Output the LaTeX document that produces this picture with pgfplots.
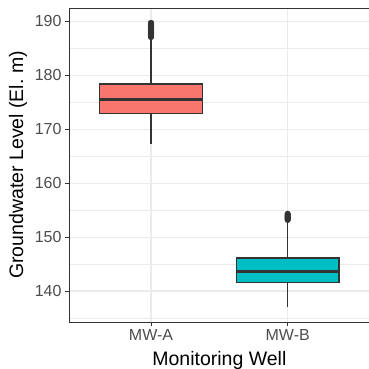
\documentclass[border=0pt]{standalone}
\usepackage{fontspec}
\setmainfont{Liberation Sans}
\usepackage{pgfplots}
\pgfplotsset{compat=1.18}
\definecolor{gtwenty}{HTML}{333333}
\definecolor{gthirty}{HTML}{4D4D4D}
\definecolor{gridc}{HTML}{EBEBEB}
\definecolor{cA}{HTML}{F8766D}
\definecolor{cB}{HTML}{00BFC4}
\begin{document}
\begin{tikzpicture}
\begin{axis}[
  name=ax,
  scale only axis,
  width=300.7pt, height=314pt,
  xmin=0.4, xmax=2.6, ymin=134.25, ymax=192.47,
  xtick={1,2}, xticklabels={MW-A,MW-B},
  ytick={140,150,160,170,180,190},
  minor ytick={135,145,155,165,175,185},
  minor tick style={draw=none},
  major tick length=4pt,
  tick align=outside,
  tick style={gtwenty, line width=0.8pt},
  xtick pos=bottom, ytick pos=left,
  grid=both,
  major grid style={gridc, line width=1.1pt},
  minor grid style={gridc, line width=0.6pt},
  axis line style={gtwenty, line width=0.8pt},
  /pgf/number format/assume math mode=true,
  ticklabel style={font=\fontsize{16}{18}\selectfont, text=gthirty},
  xlabel={Monitoring Well},
  ylabel={Groundwater Level (El.\ m)},
  every axis x label/.style={at={(axis description cs:0.5,-0.1401)}, anchor=base, font=\fontsize{19.5}{22}\selectfont, text=black},
  every axis y label/.style={at={(axis description cs:-0.1696,0.5)}, anchor=center, rotate=90, font=\fontsize{19.5}{22}\selectfont, text=black},
]
% MW-A whiskers
\addplot[gtwenty, line width=1.3pt, mark=none] coordinates {(1,178.4) (1,186.8)};
\addplot[gtwenty, line width=1.3pt, mark=none] coordinates {(1,167.3) (1,172.9)};
% MW-A box
\addplot[draw=gtwenty, fill=cA, line width=1.3pt, mark=none] coordinates {(0.625,172.9) (1.375,172.9) (1.375,178.4) (0.625,178.4)} -- cycle;
\addplot[gtwenty, line width=2.8pt, mark=none] coordinates {(0.625,175.5) (1.375,175.5)};
% MW-B whiskers
\addplot[gtwenty, line width=1.3pt, mark=none] coordinates {(2,146.1) (2,153.0)};
\addplot[gtwenty, line width=1.3pt, mark=none] coordinates {(2,137.0) (2,141.55)};
% MW-B box
\addplot[draw=gtwenty, fill=cB, line width=1.3pt, mark=none] coordinates {(1.625,141.55) (2.375,141.55) (2.375,146.1) (1.625,146.1)} -- cycle;
\addplot[gtwenty, line width=2.8pt, mark=none] coordinates {(1.625,143.6) (2.375,143.6)};
% outliers
\addplot[only marks, mark=*, mark size=2.9pt, gtwenty, mark options={fill=gtwenty, draw=gtwenty}]
  coordinates {(1,187.1) (1,187.3) (1,187.5) (1,187.7) (1,187.9) (1,188.1) (1,188.3) (1,188.5) (1,188.7) (1,188.9) (1,189.1) (1,189.3) (1,189.5) (1,189.7)
  (2,153.2) (2,153.4) (2,153.6) (2,153.8) (2,154.0) (2,154.3)};
\end{axis}
\pgfresetboundingbox
\path ([xshift=-69pt,yshift=-47pt]ax.south west) rectangle ([xshift=299pt,yshift=8pt]ax.north west);
\end{tikzpicture}
\end{document}
